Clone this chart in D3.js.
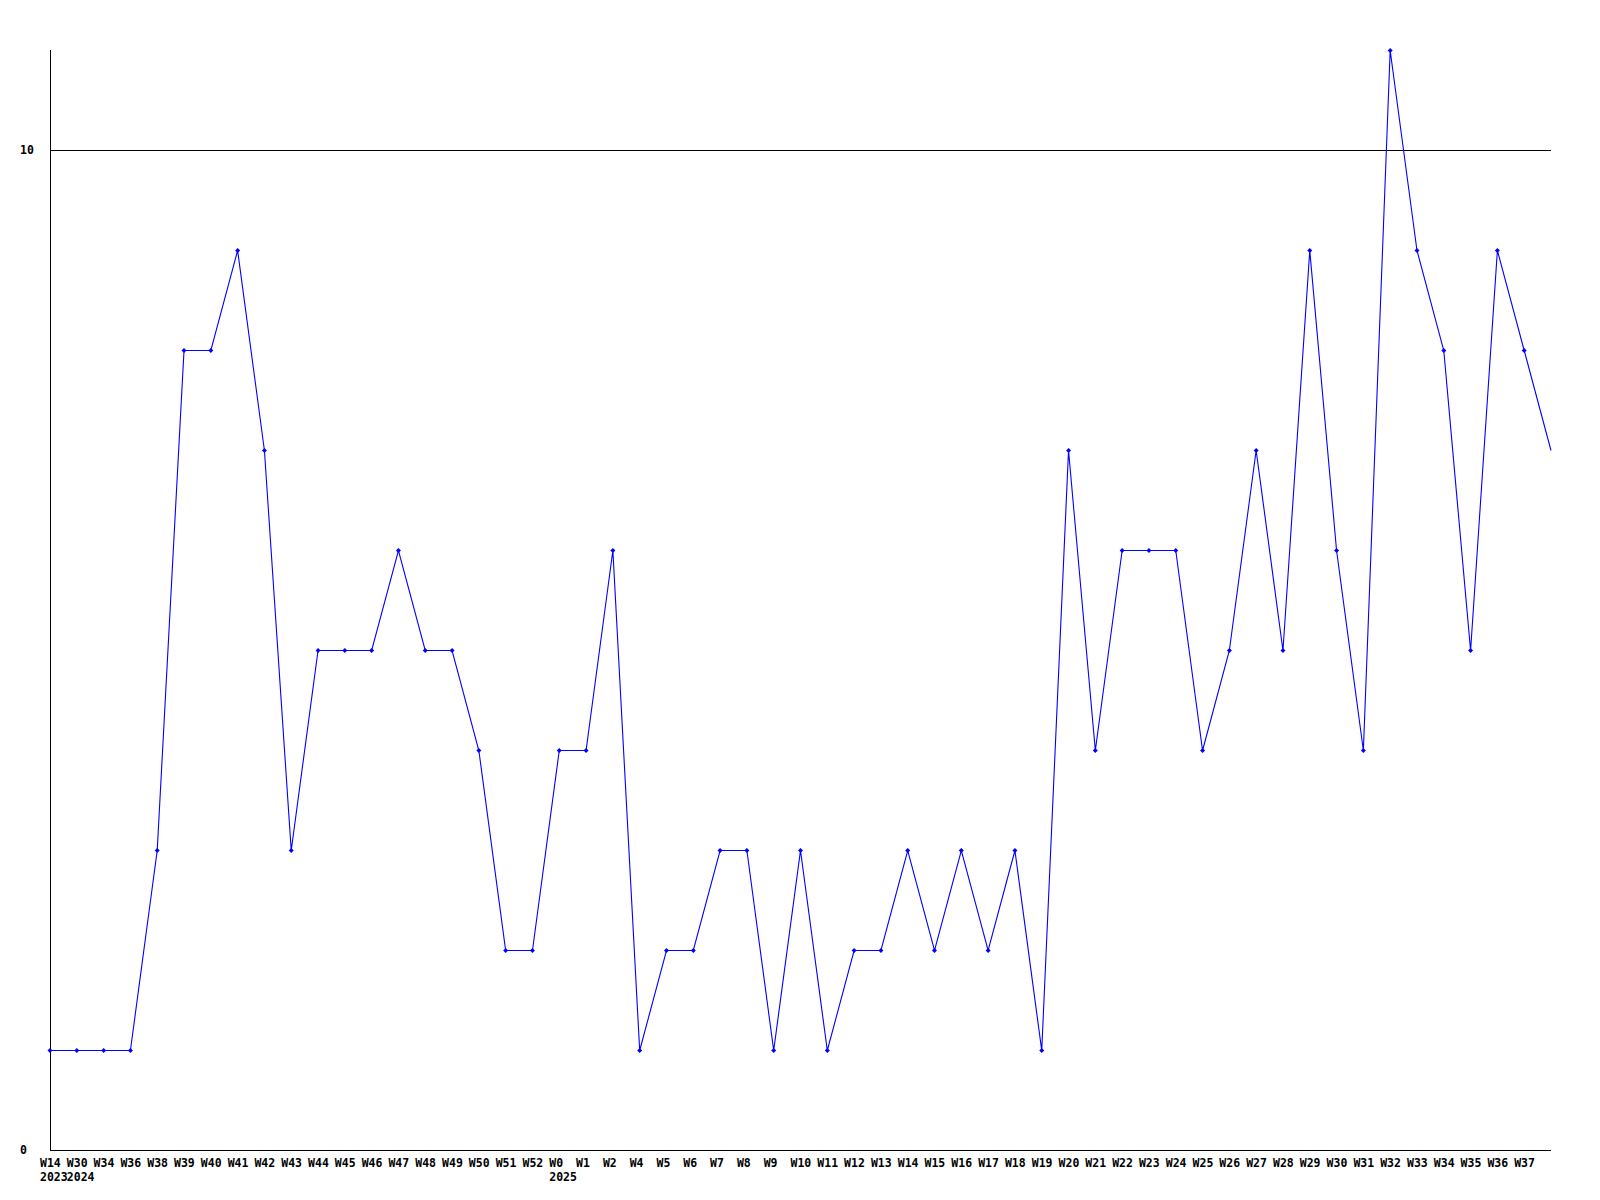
<!DOCTYPE html>
<html>
<head>
<meta charset="utf-8">
<script src="https://d3js.org/d3.v7.min.js"></script>
<style>
  html, body { margin: 0; padding: 0; background: #fff; }
  text { font-family: "DejaVu Sans Mono", "Liberation Mono", monospace; font-weight: bold; font-size: 11.5px; fill: #000; }
</style>
</head>
<body>
<div id="chart"></div>
<script>
// Data ----------------------------------------------------------------------->

// Week labels along the bottom (the last point has no label)
const week_labels = [
  'W14', 'W30', 'W34', 'W36', 'W38', 'W39', 'W40', 'W41', 'W42', 'W43',
  'W44', 'W45', 'W46', 'W47', 'W48', 'W49', 'W50', 'W51', 'W52', 'W0',
  'W1', 'W2', 'W4', 'W5', 'W6', 'W7', 'W8', 'W9', 'W10', 'W11',
  'W12', 'W13', 'W14', 'W15', 'W16', 'W17', 'W18', 'W19', 'W20', 'W21',
  'W22', 'W23', 'W24', 'W25', 'W26', 'W27', 'W28', 'W29', 'W30', 'W31',
  'W32', 'W33', 'W34', 'W35', 'W36', 'W37'
];

// Year labels, shown under the first week of each year
const year_labels = [
  { idx: 0, year: '2023' },
  { idx: 1, year: '2024' },
  { idx: 19, year: '2025' }
];

// Weekly counts
const counts = [
  1, 1, 1, 1, 3, 8, 8, 9, 7, 3,
  5, 5, 5, 6, 5, 5, 4, 2, 2, 4,
  4, 6, 1, 2, 2, 3, 3, 1, 3, 1,
  2, 2, 3, 2, 3, 2, 3, 1, 7, 4,
  6, 6, 6, 4, 5, 7, 5, 9, 6, 4,
  11, 9, 8, 5, 9, 8, 7
];

// Labelled y values
const y_ticks = [0, 10];

// Setup ---------------------------------------------------------------------->

const width = 1600, height = 1200;
const svg = d3.select('#chart')
  .append('svg')
    .attr('width', width)
    .attr('height', height);

const x = d3.scaleLinear()
  .domain([0, counts.length - 1])
  .range([50, 1551]);
const y = d3.scaleLinear()
  .domain([0, 11])
  .range([1150, 50]);

// Axes and grid -------------------------------------------------------------->

const axes = svg.append('g')
  .attr('stroke', '#000')
  .attr('stroke-width', 1)
  .attr('shape-rendering', 'crispEdges');

// horizontal line at 10
axes.append('line')
  .attr('x1', x(0)).attr('x2', x(counts.length - 1))
  .attr('y1', y(10) + 0.5).attr('y2', y(10) + 0.5);
// x axis
axes.append('line')
  .attr('x1', x(0)).attr('x2', x(counts.length - 1))
  .attr('y1', y(0) + 0.5).attr('y2', y(0) + 0.5);
// y axis
axes.append('line')
  .attr('x1', x(0) + 0.5).attr('x2', x(0) + 0.5)
  .attr('y1', y(11)).attr('y2', y(0));

svg.append('g')
  .selectAll('text')
  .data(y_ticks)
  .join('text')
    .attr('x', 20)
    .attr('y', d => y(d) + 4)
    .text(d => d);

svg.append('g')
  .selectAll('text')
  .data(week_labels)
  .join('text')
    .attr('x', (d, i) => x(i) - 10)
    .attr('y', 1167)
    .text(d => d);

svg.append('g')
  .selectAll('text')
  .data(year_labels)
  .join('text')
    .attr('x', d => x(d.idx) - 10)
    .attr('y', 1181)
    .text(d => d.year);

// Line and markers ----------------------------------------------------------->

const line = d3.line()
  .x((d, i) => x(i))
  .y(d => y(d) + 0.5);

svg.append('path')
  .datum(counts)
  .attr('fill', 'none')
  .attr('stroke', '#0000ff')
  .attr('stroke-width', 1.1)
  .attr('d', line);

// markers on every labelled week
svg.append('g')
  .selectAll('path')
  .data(counts.slice(0, week_labels.length))
  .join('path')
    .attr('transform', (d, i) => `translate(${x(i)},${y(d) + 0.5})`)
    .attr('d', 'M0,-2.5L2.5,0L0,2.5L-2.5,0Z')
    .attr('fill', '#0000ff');
</script>
</body>
</html>
